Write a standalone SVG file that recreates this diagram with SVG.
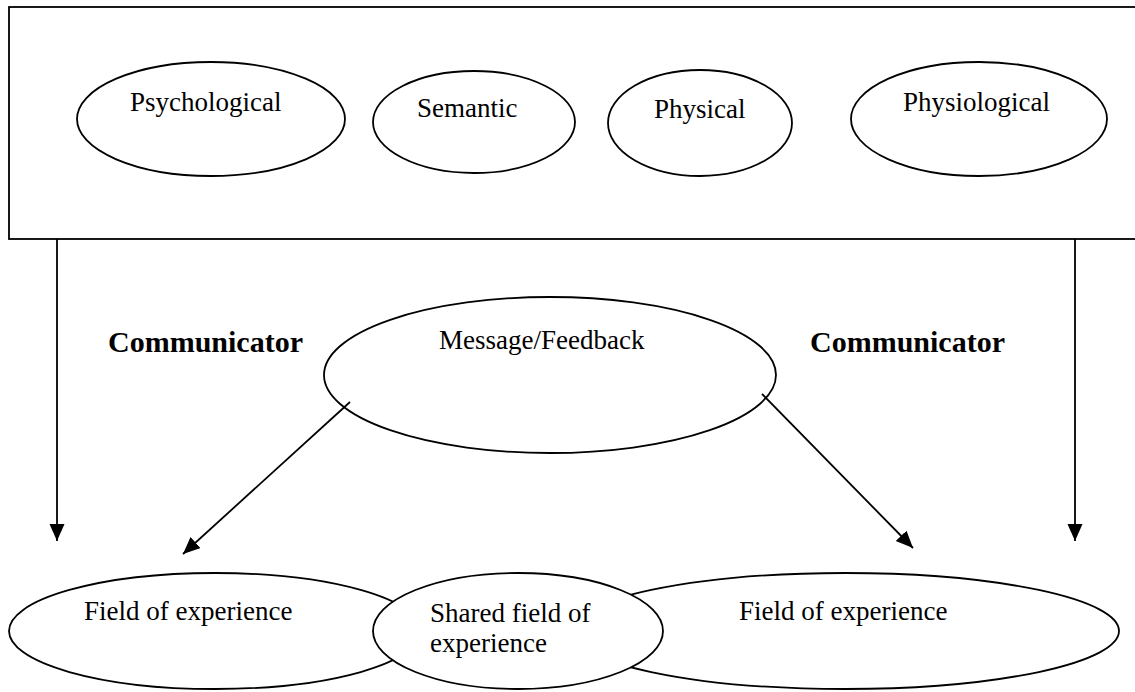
<svg xmlns="http://www.w3.org/2000/svg" width="1135" height="692" viewBox="0 0 1135 692">
<style>
.box{fill:#fff;stroke:#000;stroke-width:1.8}
.el{fill:#fff;stroke:#000;stroke-width:1.8}
.t{font-family:"Liberation Serif","Times New Roman",serif;font-size:27px;fill:#000}
.b{font-family:"Liberation Serif","Times New Roman",serif;font-size:30px;font-weight:bold;fill:#000}
.ln{stroke:#000;stroke-width:1.8;fill:none}
</style>
<defs>
<marker id="ah" markerUnits="userSpaceOnUse" markerWidth="18" markerHeight="16" refX="17" refY="7.5" orient="auto">
<path d="M0,0 L17,7.5 L0,15 Z" fill="#000"/>
</marker>
</defs>
<rect width="1135" height="692" fill="#fff"/>
<g id="barriers">
<rect class="box" x="9" y="7" width="1140" height="232"/>
</g>
<g id="psychological">
<ellipse class="el" cx="211" cy="119" rx="134" ry="57"/>
<text class="t" x="130" y="111">Psychological</text>
</g>
<g id="semantic">
<ellipse class="el" cx="474" cy="122" rx="101" ry="51"/>
<text class="t" x="417" y="117">Semantic</text>
</g>
<g id="physical">
<ellipse class="el" cx="700" cy="123" rx="92" ry="53"/>
<text class="t" x="654" y="118">Physical</text>
</g>
<g id="physiological">
<ellipse class="el" cx="979" cy="119" rx="128" ry="57"/>
<text class="t" x="903" y="111">Physiological</text>
</g>
<g id="communicator-left">
<text class="b" x="108" y="352">Communicator</text>
</g>
<g id="communicator-right">
<text class="b" x="810" y="352">Communicator</text>
</g>
<g id="message">
<ellipse class="el" cx="550" cy="375" rx="226" ry="78"/>
<text class="t" x="439" y="349">Message/Feedback</text>
</g>
<g id="connectors">
<line class="ln" x1="57" y1="239" x2="57" y2="541" marker-end="url(#ah)"/>
<line class="ln" x1="1075" y1="239" x2="1075" y2="541" marker-end="url(#ah)"/>
<line class="ln" x1="350" y1="402" x2="183" y2="554" marker-end="url(#ah)"/>
<line class="ln" x1="762" y1="394" x2="913" y2="548" marker-end="url(#ah)"/>
</g>
<g id="field-left">
<ellipse class="el" cx="215" cy="631" rx="206" ry="58"/>
<text class="t" x="84" y="620">Field of experience</text>
</g>
<g id="field-right">
<ellipse class="el" cx="845" cy="631" rx="274" ry="58"/>
<text class="t" x="739" y="620">Field of experience</text>
</g>
<g id="shared">
<ellipse class="el" cx="518" cy="631" rx="145" ry="58"/>
<text class="t" x="430" y="622">Shared field of</text>
<text class="t" x="430" y="652">experience</text>
</g>
</svg>
